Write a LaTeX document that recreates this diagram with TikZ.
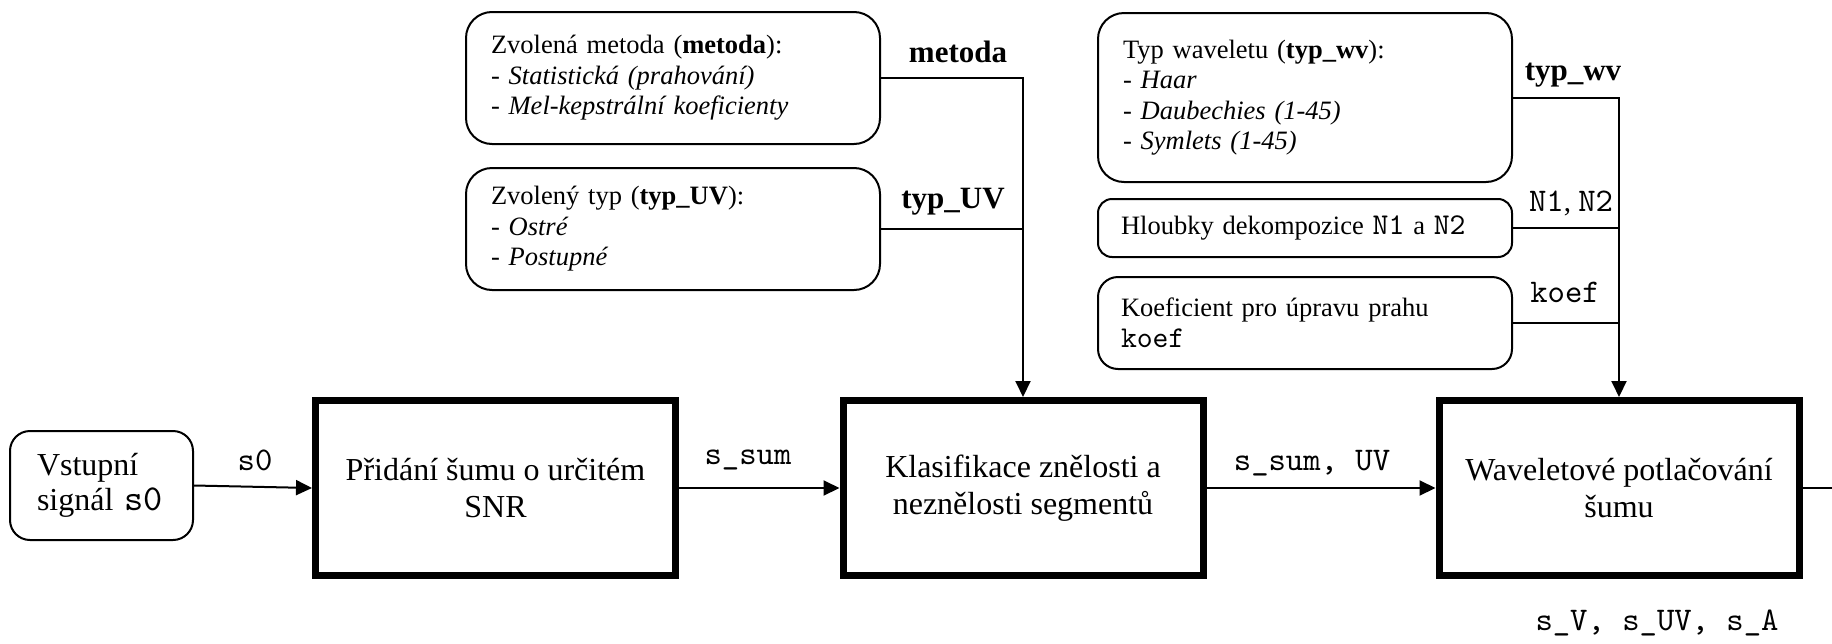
\documentclass[tikz,border=0pt]{standalone}
\usepackage{fontspec}
\setmainfont{Liberation Serif}
\setmonofont{lmmono10-regular.otf}[Scale=1.14]
\usetikzlibrary{arrows.meta}
\begin{document}
\begin{tikzpicture}[x=1pt,y=-1pt,
  mainbox/.style={draw, line width=7pt, minimum width=360pt, minimum height=175pt,
    inner sep=0pt, outer sep=3.5pt, align=center, font=\fontsize{32}{37}\selectfont},
  parbox/.style={draw, line width=2pt, rounded corners=26pt, inner xsep=25pt, inner ysep=0pt,
    outer sep=1pt, align=left, minimum width=414pt, text width=364pt,
    font=\fontsize{26.5}{30.5}\selectfont},
  arr/.style={line width=2pt, -{Triangle[length=16pt,width=15pt]}},
  conn/.style={line width=2pt},
  blabel/.style={font=\fontsize{31}{31}\selectfont\bfseries, inner sep=0pt},
  tlabel/.style={font=\fontsize{29}{29}\selectfont\ttfamily, inner sep=0pt},
  tlabelmix/.style={font=\fontsize{29}{29}\selectfont, inner sep=0pt}
]
\useasboundingbox (0,0) rectangle (1832,643);

% input
\node[draw, line width=2pt, rounded corners=20pt, minimum width=183pt, minimum height=109pt,
  inner xsep=27pt, inner ysep=0pt, outer sep=1pt, align=left, text width=129pt,
  font=\fontsize{32}{35}\selectfont] (in) at (101.5,485.5) {Vstupní\\signál \texttt{s0}};

% main chain
\node[mainbox] (b1) at (495.5,488) {Přidání šumu o určitém\\SNR};
\node[mainbox] (b2) at (1023,488) {Klasifikace znělosti a\\neznělosti segmentů};
\node[mainbox] (b3) at (1619,488) {Waveletové potlačování\\šumu};
\coordinate (out) at (1832,488);

% parameter boxes, left group
\node[parbox, minimum height=132pt] (m1) at (673,78)
  {Zvolená metoda (\textbf{metoda}):\\- \textit{Statistická (prahování)}\\- \textit{Mel-kepstrální koeficienty}};
\node[parbox, minimum height=122pt] (m2) at (673,229)
  {Zvolený typ (\textbf{typ\_UV}):\\- \textit{Ostré}\\- \textit{Postupné}};

% parameter boxes, right group
\node[parbox, minimum height=169pt] (w1) at (1305,97.5)
  {Typ waveletu (\textbf{typ\_wv}):\\- \textit{Haar}\\- \textit{Daubechies (1-45)}\\- \textit{Symlets (1-45)}};
\node[parbox, rounded corners=14pt, minimum height=58pt, inner xsep=23pt, text width=368pt] (w2) at (1305,228)
  {Hloubky dekompozice \texttt{N1} a \texttt{N2}};
\node[parbox, rounded corners=20pt, minimum height=92pt, inner xsep=23pt, text width=368pt] (w3) at (1305,323)
  {Koeficient pro úpravu prahu\\\texttt{koef}};

% connectors
\draw[arr] (in.east) -- (b1.west);
\draw[arr] (b1.east) -- (b2.west);
\draw[arr] (b2.east) -- (b3.west);
\draw[conn] (b3.east) -- (out);

\draw[arr] (m1.east) -| (b2.north);
\draw[conn] (m2.east) -- (m2.east -| b2.north);

\draw[arr] (w1.east) -| (b3.north);
\draw[conn] (w2.east) -- (w2.east -| b3.north);
\draw[conn] (w3.east) -- (w3.east -| b3.north);

% labels
\node[tlabel] (ls0) at (255,460) {s0};
\node[tlabel] (lsum) at (748,460) {s\_sum};
\node[tlabel] (lsumuv) at (1312,463) {s\_sum, UV};
\node[tlabel] (lout) at (1657,623) {s\_V, s\_UV, s\_A};

\node[blabel] (lmet) at (958,52) {metoda};
\node[blabel] (luv) at (953,202) {typ\_UV};
\node[blabel] (lwv) at (1573,75) {typ\_wv};
\node[tlabelmix] (ln) at (1571,203) {\texttt{N1}, \texttt{N2}};
\node[tlabel] (lkoef) at (1565,292) {koef};
\end{tikzpicture}
\end{document}
